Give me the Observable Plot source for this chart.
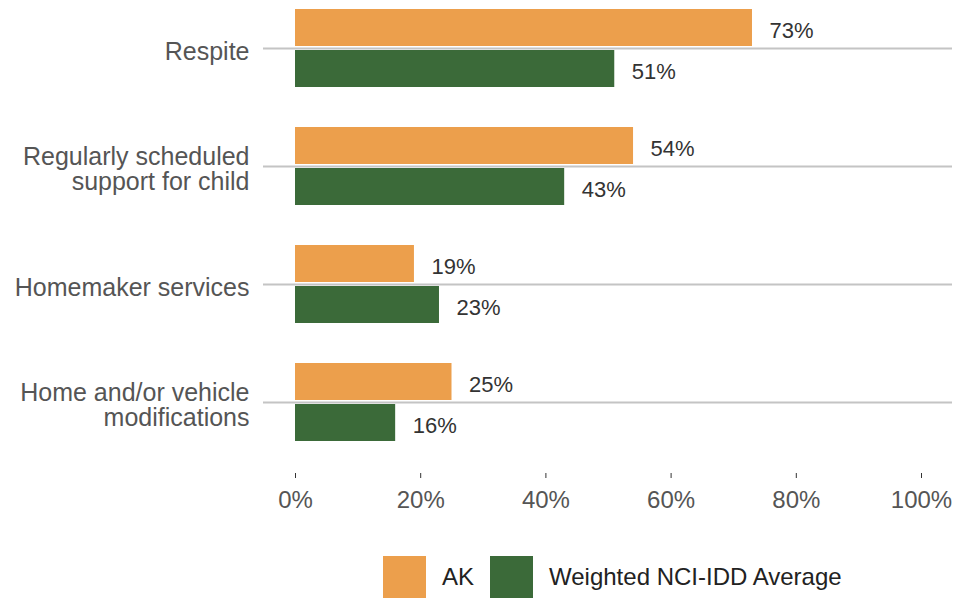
<!DOCTYPE html>
<html>
<head>
<meta charset="utf-8">
<script src="https://cdn.jsdelivr.net/npm/d3@7"></script>
<script src="https://cdn.jsdelivr.net/npm/@observablehq/plot@0.6"></script>
<style>
  html, body { margin: 0; padding: 0; background: #fff; }
  body { width: 955px; height: 599px; overflow: hidden; font-family: "Liberation Sans", Arial, sans-serif; }
  #legend { display: flex; align-items: center; margin-left: 383px; margin-top: 36px; height: 42px; }
  .sw { width: 43px; height: 42px; }
  .lab { font-size: 24px; color: #222; margin-left: 16px; margin-right: 16px; }
</style>
</head>
<body>
<div id="chart"></div>
<div id="legend"></div>
<script>
const categories = ["Respite", "Regularly scheduled support for child", "Homemaker services", "Home and/or vehicle modifications"];
const categoryLabels = ["Respite", "Regularly scheduled\nsupport for child", "Homemaker services", "Home and/or vehicle\nmodifications"];
const seriesNames = ["AK", "Weighted NCI-IDD Average"];
const akValues = [73, 54, 19, 25];
const nciValues = [51, 43, 23, 16];
const xTicks = [0, 20, 40, 60, 80, 100];
const colors = ["#EC9F4C", "#3B6A39"];

const akData = categories.map((c, i) => ({category: c, value: akValues[i]}));
const nciData = categories.map((c, i) => ({category: c, value: nciValues[i]}));
const labelOf = new Map(categories.map((c, i) => [c, categoryLabels[i]]));

const chart = Plot.plot({
  width: 955,
  height: 520,
  marginLeft: 263,
  marginRight: 3,
  marginTop: 3,
  marginBottom: 47,
  style: {fontFamily: '"Liberation Sans", Arial, sans-serif', background: "#fff"},
  x: {domain: [0, 100], range: [295, 921]},
  y: {domain: categories, range: [3, 447], paddingInner: 0.339, paddingOuter: 0.05},
  marks: [
    Plot.gridY({stroke: "#c4c4c4", strokeWidth: 2, strokeOpacity: 1}),
    Plot.barX(akData, {x: "value", y: "category", fill: colors[0], insetBottom: 41}),
    Plot.barX(nciData, {x: "value", y: "category", fill: colors[1], insetTop: 41}),
    Plot.text(akData, {x: "value", y: "category", text: d => d.value + "%", textAnchor: "start", dx: 17, dy: -18, fontSize: 22, fill: "#333"}),
    Plot.text(nciData, {x: "value", y: "category", text: d => d.value + "%", textAnchor: "start", dx: 17, dy: 23, fontSize: 22, fill: "#333"}),
    Plot.axisY({tickSize: 0, tickPadding: 14, fontSize: 25, fill: "#555", dy: 3, lineHeight: 1.0, tickFormat: d => labelOf.get(d), label: null}),
    Plot.axisX({ticks: xTicks, tickSize: 5, tickPadding: 12, fontSize: 24, fill: "#555", stroke: "#333", tickFormat: d => d + "%", label: null})
  ]
});
document.getElementById("chart").appendChild(chart);

const legend = document.getElementById("legend");
seriesNames.forEach((name, i) => {
  const sw = document.createElement("div");
  sw.className = "sw";
  sw.style.background = colors[i];
  const lab = document.createElement("span");
  lab.className = "lab";
  lab.textContent = name;
  legend.appendChild(sw);
  legend.appendChild(lab);
});
</script>
</body>
</html>
